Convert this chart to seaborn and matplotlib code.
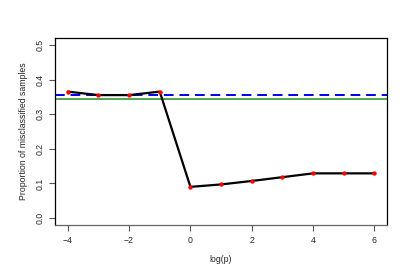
import numpy as np
import pandas as pd
import matplotlib
matplotlib.use("Agg")
import matplotlib.pyplot as plt
import seaborn as sns

log_p = [-4, -3, -2, -1, 0, 1, 2, 3, 4, 5, 6]
error = [0.365, 0.355, 0.355, 0.365, 0.090, 0.097, 0.107, 0.118, 0.129, 0.129, 0.129]
blue_ref = 0.354
green_ref = 0.343
yticks = [0.0, 0.1, 0.2, 0.3, 0.4, 0.5]
xticks = [-4, -2, 0, 2, 4, 6]

sns.set_style("white")
plt.rcParams['font.family'] = ['Liberation Sans', 'DejaVu Sans']

df = pd.DataFrame({"log_p": log_p, "error": error})

fig = plt.figure(figsize=(4.15, 2.73), dpi=100)
ax = fig.add_axes([0.1337, 0.176, 0.7981, 0.685])

ax.axhline(green_ref, color="#228B22", lw=1.1, zorder=1)
ax.axhline(blue_ref, color="#0000EE", lw=1.4, ls=(0, (5, 3)), zorder=2)
sns.lineplot(data=df, x="log_p", y="error", ax=ax, color="black", lw=1.6, zorder=3)
sns.scatterplot(data=df, x="log_p", y="error", ax=ax, color="red", s=10, linewidth=0, zorder=4)

ax.set_xlim(-4.4, 6.4)
ax.set_ylim(-0.02, 0.52)
ax.set_xticks(xticks)
ax.set_xticklabels([str(t).replace('-', '\u2212') for t in xticks])
ax.set_yticks(yticks)
ax.set_yticklabels([f"{t:.1f}" for t in yticks], rotation=90, va="center")
ax.tick_params(axis="both", direction="out", length=4, width=0.8, color="#555555",
               labelsize=6.3, pad=4, left=True, bottom=True)
for s in ax.spines.values():
    s.set_color("black")
    s.set_linewidth(0.9)
ax.spines["bottom"].set_color("#666666")
ax.set_xlabel("log(p)", fontsize=6.3, labelpad=7)
ax.set_ylabel("Proportion of misclassified samples", fontsize=6.3, labelpad=5)

fig.savefig("out.png", dpi=100)
